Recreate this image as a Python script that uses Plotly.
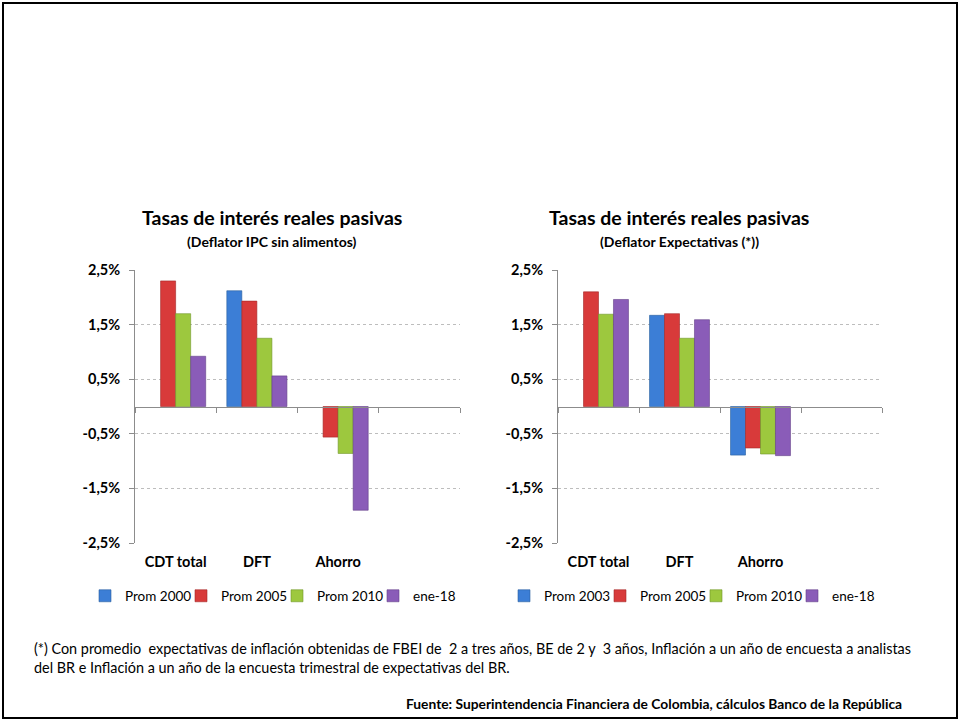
import plotly.graph_objects as go

# ---------------- data ----------------
categories = ["CDT total", "DFT", "Ahorro"]
series_left = ["Prom 2000", "Prom 2005", "Prom 2010", "ene-18"]
series_right = ["Prom 2003", "Prom 2005", "Prom 2010", "ene-18"]

left_first = [None, 2.12, None]      # Prom 2000
left_2005 = [2.30, 1.93, -0.56]
left_2010 = [1.70, 1.25, -0.86]
left_ene18 = [0.92, 0.56, -1.90]

right_first = [None, 1.67, -0.89]    # Prom 2003
right_2005 = [2.10, 1.70, -0.76]
right_2010 = [1.69, 1.25, -0.87]
right_ene18 = [1.96, 1.59, -0.90]

y_ticks = [-2.5, -1.5, -0.5, 0.5, 1.5, 2.5]
y_ticktext = [f"{v:.1f}%".replace(".", ",") for v in y_ticks]
boundaries = [-0.5, 0.5, 1.5, 2.5, 3.5]

title_main = "Tasas de interés reales pasivas"
sub_left = "(Deflator IPC sin alimentos)"
sub_right = "(Deflator Expectativas (*))"
footnote = ("(*) Con promedio  expectativas de inflación obtenidas de FBEI de  2 a tres años, BE de 2 y  3 años, "
            "Inflación a un año de encuesta a analistas<br>del BR e Inflación a un año de la encuesta trimestral de expectativas del BR.")
source = "Fuente: Superintendencia Financiera de Colombia, cálculos Banco de la República"

colors = ["#3C7ED6", "#D83A3A", "#9DC83E", "#8A5CB8"]
lines = ["#2A5F9E", "#A32828", "#6F9528", "#633F88"]

FONT = "Lato"
W, H = 960, 721

fig = go.Figure()

left_vals = [left_first, left_2005, left_2010, left_ene18]
right_vals = [right_first, right_2005, right_2010, right_ene18]

for i, (name, vals) in enumerate(zip(series_left, left_vals)):
    fig.add_trace(go.Bar(x=categories, y=vals, name=name, xaxis="x", yaxis="y",
                         marker=dict(color=colors[i], line=dict(color=lines[i], width=0.6)),
                         legend="legend"))
for i, (name, vals) in enumerate(zip(series_right, right_vals)):
    fig.add_trace(go.Bar(x=categories, y=vals, name=name, xaxis="x2", yaxis="y2",
                         marker=dict(color=colors[i], line=dict(color=lines[i], width=0.6)),
                         legend="legend2"))

# empty traces that activate the zero-line overlay axes
fig.add_trace(go.Scatter(x=[], y=[], xaxis="x3", yaxis="y", showlegend=False, hoverinfo="skip"))
fig.add_trace(go.Scatter(x=[], y=[], xaxis="x4", yaxis="y2", showlegend=False, hoverinfo="skip"))

def px(x):
    return x / W

def py(y):
    return 1 - y / H

dom_y = [py(543), py(270)]
dom_xl = [px(135), px(460)]
dom_xr = [px(558), px(882)]
mid_y = (dom_y[0] + dom_y[1]) / 2

axis_col = "#8C8C8C"
grid_col = "#BDBDBD"

def yaxis(anchor):
    return dict(domain=dom_y, anchor=anchor, range=[-2.5, 2.5], tickvals=y_ticks,
                ticktext=y_ticktext, showgrid=True, gridcolor=grid_col,
                griddash="3px,3px", gridwidth=1, zeroline=False, showline=True,
                linecolor=axis_col, linewidth=1, ticks="outside", ticklen=5,
                tickcolor=axis_col, ticklabelstandoff=6, automargin=False,
                tickfont=dict(family=FONT, size=14.5, color="#000000", weight="bold"))

def xcat(dom, anchor):
    return dict(domain=dom, anchor=anchor, type="category", range=[-0.5, 3.5],
                showline=False, ticks="", showgrid=False, zeroline=False,
                ticklabelstandoff=8, automargin=False,
                tickfont=dict(family=FONT, size=14.5, color="#000000", weight="bold"))

def xzero(over):
    return dict(overlaying=over, anchor="free", position=mid_y, range=[-0.5, 3.5],
                tickvals=boundaries, showticklabels=False, ticks="outside", ticklen=5,
                tickcolor=axis_col, showline=True, linecolor=axis_col, linewidth=1,
                showgrid=False, zeroline=False, automargin=False)

legend_common = dict(orientation="h", xanchor="left", y=py(596), yanchor="middle",
                     font=dict(family=FONT, size=13.5, color="#000000"), itemwidth=30,
                     entrywidth=51, tracegroupgap=0, bgcolor="rgba(0,0,0,0)")

fig.update_layout(
    width=W, height=H,
    margin=dict(l=0, r=0, t=0, b=0, autoexpand=False),
    paper_bgcolor="white", plot_bgcolor="white",
    barmode="group", bargap=0.26, bargroupgap=0.0,
    font=dict(family=FONT, color="#000000"),
    xaxis=xcat(dom_xl, "y"),
    xaxis2=xcat(dom_xr, "y2"),
    xaxis3=xzero("x"),
    xaxis4=xzero("x2"),
    yaxis=yaxis("x"),
    yaxis2=yaxis("x2"),
    legend=dict(legend_common, x=px(85)),
    legend2=dict(legend_common, x=px(504)),
    showlegend=True,
)

ann = []
for cx, sub in [(272, sub_left), (679, sub_right)]:
    ann.append(dict(text="<b>" + title_main + "</b>", x=px(cx), y=py(218), xref="paper", yref="paper",
                    xanchor="center", yanchor="middle", showarrow=False,
                    font=dict(family=FONT, size=19.5, color="#000000")))
    ann.append(dict(text="<b>" + sub + "</b>", x=px(cx), y=py(241), xref="paper", yref="paper",
                    xanchor="center", yanchor="middle", showarrow=False,
                    font=dict(family=FONT, size=14, color="#000000")))
ann.append(dict(text=footnote, x=px(32), y=py(658), xref="paper", yref="paper",
                xanchor="left", yanchor="middle", align="left", showarrow=False,
                font=dict(family=FONT, size=14.4, color="#000000")))
ann.append(dict(text="<b>" + source + "</b>", x=px(904), y=py(703), xref="paper", yref="paper",
                xanchor="right", yanchor="middle", showarrow=False,
                font=dict(family=FONT, size=13.8, color="#000000")))
fig.update_layout(annotations=ann)

fig.add_shape(type="rect", xref="paper", yref="paper", x0=px(3), x1=px(957),
              y0=py(718), y1=py(3), line=dict(color="#000000", width=2),
              fillcolor="rgba(0,0,0,0)")

fig.write_html("out.html",
               config={"displayModeBar": False},
               post_script="document.body.style.margin='0';document.body.style.overflow='hidden';")
